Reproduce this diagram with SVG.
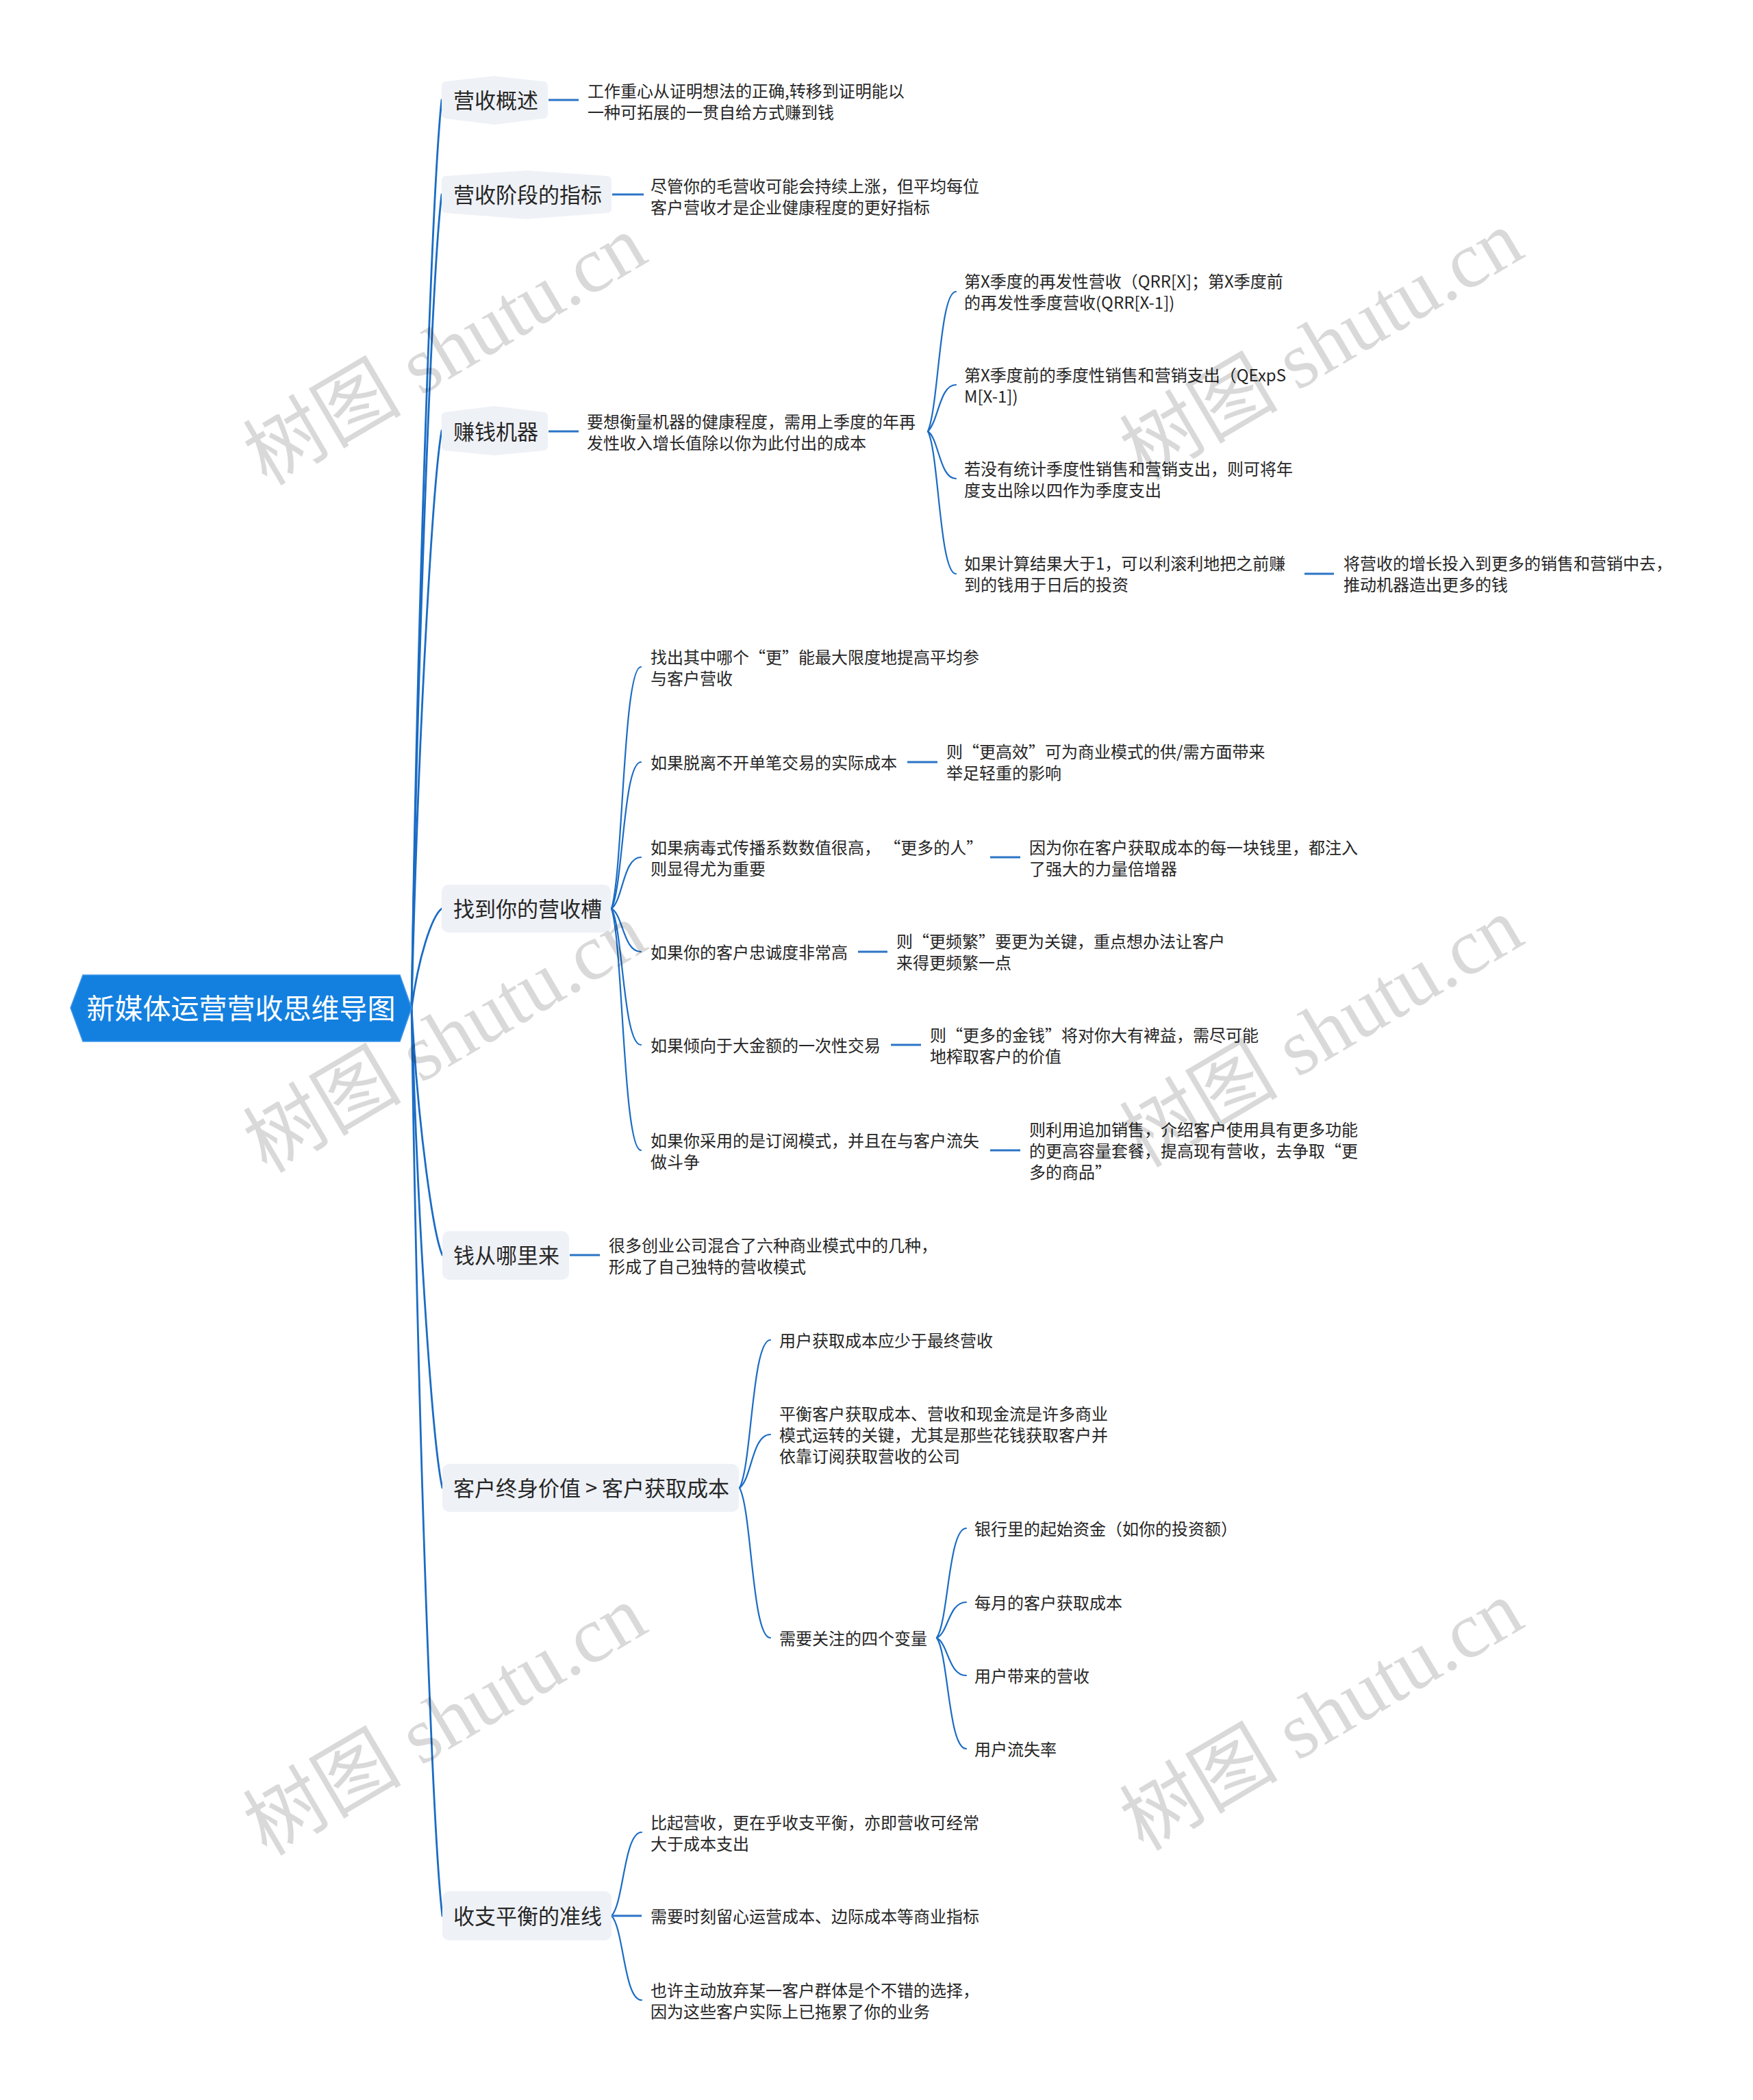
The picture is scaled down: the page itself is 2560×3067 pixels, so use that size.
<svg xmlns="http://www.w3.org/2000/svg" width="2560" height="3067" viewBox="0 0 2560 3067">
<style>
text{font-family:"Noto Sans CJK SC","Noto Sans",sans-serif;dominant-baseline:central;}
.root{font-size:41px;fill:#ffffff;text-anchor:middle;transform:translateY(-2px);}
.l1{font-size:31px;fill:#262626;transform:translateY(-2px);}
.t{font-size:24px;fill:#262626;transform:translateY(-1px);}
.n1{fill:#eef1f6;stroke:#eef1f6;stroke-width:12;stroke-linejoin:round;}
.n1r{fill:#eef1f6;}
.c{fill:none;stroke:#1b6cc4;stroke-width:2.2;stroke-linecap:round;}
.cr{fill:none;stroke:#1b6cc4;stroke-width:2.8;stroke-linecap:round;}
.h{fill:none;stroke:#2b74c6;stroke-width:3;}
.wm{font-family:"Liberation Serif","Noto Sans CJK SC",serif;font-size:116px;fill:#000;fill-opacity:0.15;text-anchor:middle;dominant-baseline:central;}
</style>
<rect x="0" y="0" width="2560" height="3067" fill="#ffffff"/>

<g id="connectors">
  <path class="cr" d="M601 1472 C611 809 633 252 645 146"/>
  <path class="cr" d="M601 1472 C611 878 633 379 645 284"/>
  <path class="cr" d="M601 1472 C611 1050 633 696 645 629"/>
  <path class="cr" d="M601 1472 C611 1399 630 1339 645 1327"/>
  <path class="cr" d="M601 1472 C611 1652 633 1804 646 1833"/>
  <path class="cr" d="M601 1472 C611 1822 633 2117 646 2173"/>
  <path class="cr" d="M601 1472 C611 2135 633 2692 646 2798"/>
  <line class="h" x1="801" y1="146" x2="845" y2="146"/>
  <line class="h" x1="894" y1="284" x2="940" y2="284"/>
  <line class="h" x1="801" y1="630" x2="845" y2="630"/>
  <line class="h" x1="832" y1="1833" x2="876" y2="1833"/>
  <line class="h" x1="1905" y1="838" x2="1948" y2="838"/>
  <line class="h" x1="1325" y1="1113" x2="1369" y2="1113"/>
  <line class="h" x1="1446" y1="1252" x2="1490" y2="1252"/>
  <line class="h" x1="1253" y1="1390" x2="1296" y2="1390"/>
  <line class="h" x1="1301" y1="1526" x2="1345" y2="1526"/>
  <line class="h" x1="1446" y1="1680" x2="1490" y2="1680"/>
  <path class="c" d="M1355 630 C1371 593 1372 426 1396 426"/>
  <path class="c" d="M1355 630 C1371 614 1372 562 1396 562"/>
  <path class="c" d="M1355 630 C1371 640 1372 699 1396 699"/>
  <path class="c" d="M1355 630 C1371 660 1372 838 1396 838"/>
  <path class="c" d="M893 1327 C910 1272 910 974 936 974"/>
  <path class="c" d="M893 1327 C910 1295 910 1113 936 1113"/>
  <path class="c" d="M893 1327 C910 1314 910 1252 936 1252"/>
  <path class="c" d="M893 1327 C910 1336 910 1390 936 1390"/>
  <path class="c" d="M893 1327 C910 1357 910 1526 936 1526"/>
  <path class="c" d="M893 1327 C910 1380 910 1680 936 1680"/>
  <path class="c" d="M1080 2173 C1098 2140 1098 1957 1125 1957"/>
  <path class="c" d="M1080 2173 C1098 2160 1098 2095 1125 2095"/>
  <path class="c" d="M1080 2173 C1098 2206 1098 2392 1125 2392"/>
  <path class="c" d="M1368 2392 C1385 2368 1385 2232 1411 2232"/>
  <path class="c" d="M1368 2392 C1385 2385 1385 2340 1411 2340"/>
  <path class="c" d="M1368 2392 C1385 2401 1385 2447 1411 2447"/>
  <path class="c" d="M1368 2392 C1385 2416 1385 2554 1411 2554"/>
  <path class="c" d="M893 2798 C911 2780 911 2676 937 2676"/>
  <line class="h" x1="895" y1="2798" x2="937" y2="2798"/>
  <path class="c" d="M893 2798 C911 2816 911 2921 937 2921"/>
</g>

<g id="root">
  <polygon points="103,1472 121,1424 584,1424 601,1472 584,1521 121,1521" fill="#1380e0" stroke="#3d95e8" stroke-width="1.5"/>
  <text class="root" x="352" y="1472">新媒体运营营收思维导图</text>
</g>

<g id="n-yingshougaishu">
  <polygon class="n1" points="651,125 722,117 794,125 794,167 722,176 651,167"/>
  <text class="l1" x="662" y="146">营收概述</text>
</g>
<g id="n-yingshougaishu-1">
  <text class="t"><tspan x="858" y="132">工作重心从证明想法的正确,转移到证明能以</tspan><tspan x="858" y="163">一种可拓展的一贯自给方式赚到钱</tspan></text>
</g>

<g id="n-zhibiao">
  <polygon class="n1" points="651,263 769,255 887,263 887,305 769,314 651,305"/>
  <text class="l1" x="662" y="284">营收阶段的指标</text>
</g>
<g id="n-zhibiao-1">
  <text class="t"><tspan x="950" y="271">尽管你的毛营收可能会持续上涨，但平均每位</tspan><tspan x="950" y="302">客户营收才是企业健康程度的更好指标</tspan></text>
</g>

<g id="n-zhuanqian">
  <polygon class="n1" points="651,608 722,599 794,608 794,652 722,659 651,652"/>
  <text class="l1" x="662" y="630">赚钱机器</text>
</g>
<g id="n-zhuanqian-1">
  <text class="t"><tspan x="857" y="615">要想衡量机器的健康程度，需用上季度的年再</tspan><tspan x="857" y="646">发性收入增长值除以你为此付出的成本</tspan></text>
</g>
<g id="n-zhuanqian-1-1">
  <text class="t"><tspan x="1408" y="410">第X季度的再发性营收（QRR[X]；第X季度前</tspan><tspan x="1408" y="441">的再发性季度营收(QRR[X-1])</tspan></text>
</g>
<g id="n-zhuanqian-1-2">
  <text class="t"><tspan x="1408" y="547">第X季度前的季度性销售和营销支出（QExpS</tspan><tspan x="1408" y="578">M[X-1])</tspan></text>
</g>
<g id="n-zhuanqian-1-3">
  <text class="t"><tspan x="1408" y="684">若没有统计季度性销售和营销支出，则可将年</tspan><tspan x="1408" y="715">度支出除以四作为季度支出</tspan></text>
</g>
<g id="n-zhuanqian-1-4">
  <text class="t"><tspan x="1408" y="822">如果计算结果大于1，可以利滚利地把之前赚</tspan><tspan x="1408" y="853">到的钱用于日后的投资</tspan></text>
</g>
<g id="n-zhuanqian-1-4-1">
  <text class="t"><tspan x="1962" y="822">将营收的增长投入到更多的销售和营销中去，</tspan><tspan x="1962" y="853">推动机器造出更多的钱</tspan></text>
</g>

<g id="n-yingshoucao">
  <rect class="n1r" x="645" y="1292" width="247" height="70" rx="10"/>
  <text class="l1" x="662" y="1327">找到你的营收槽</text>
</g>
<g id="n-cao-1">
  <text class="t"><tspan x="950" y="959">找出其中哪个“更”能最大限度地提高平均参</tspan><tspan x="950" y="990">与客户营收</tspan></text>
</g>
<g id="n-cao-2">
  <text class="t" x="950" y="1113">如果脱离不开单笔交易的实际成本</text>
</g>
<g id="n-cao-2-1">
  <text class="t"><tspan x="1382" y="1097">则“更高效”可为商业模式的供/需方面带来</tspan><tspan x="1382" y="1128">举足轻重的影响</tspan></text>
</g>
<g id="n-cao-3">
  <text class="t"><tspan x="950" y="1237">如果病毒式传播系数数值很高， “更多的人”</tspan><tspan x="950" y="1268">则显得尤为重要</tspan></text>
</g>
<g id="n-cao-3-1">
  <text class="t"><tspan x="1503" y="1237">因为你在客户获取成本的每一块钱里，都注入</tspan><tspan x="1503" y="1268">了强大的力量倍增器</tspan></text>
</g>
<g id="n-cao-4">
  <text class="t" x="950" y="1390">如果你的客户忠诚度非常高</text>
</g>
<g id="n-cao-4-1">
  <text class="t"><tspan x="1309" y="1374">则“更频繁”要更为关键，重点想办法让客户</tspan><tspan x="1309" y="1405">来得更频繁一点</tspan></text>
</g>
<g id="n-cao-5">
  <text class="t" x="950" y="1526">如果倾向于大金额的一次性交易</text>
</g>
<g id="n-cao-5-1">
  <text class="t"><tspan x="1358" y="1511">则“更多的金钱”将对你大有裨益，需尽可能</tspan><tspan x="1358" y="1542">地榨取客户的价值</tspan></text>
</g>
<g id="n-cao-6">
  <text class="t"><tspan x="950" y="1665">如果你采用的是订阅模式，并且在与客户流失</tspan><tspan x="950" y="1696">做斗争</tspan></text>
</g>
<g id="n-cao-6-1">
  <text class="t"><tspan x="1503" y="1649">则利用追加销售，介绍客户使用具有更多功能</tspan><tspan x="1503" y="1680">的更高容量套餐，提高现有营收，去争取“更</tspan><tspan x="1503" y="1711">多的商品”</tspan></text>
</g>

<g id="n-qiancong">
  <rect class="n1r" x="646" y="1798" width="185" height="71" rx="10"/>
  <text class="l1" x="662" y="1833">钱从哪里来</text>
</g>
<g id="n-qiancong-1">
  <text class="t"><tspan x="889" y="1818">很多创业公司混合了六种商业模式中的几种，</tspan><tspan x="889" y="1849">形成了自己独特的营收模式</tspan></text>
</g>

<g id="n-ltv">
  <rect class="n1r" x="646" y="2138" width="433" height="70" rx="10"/>
  <text class="l1" x="662" y="2173">客户终身价值 &gt; 客户获取成本</text>
</g>
<g id="n-ltv-1">
  <text class="t" x="1138" y="1957">用户获取成本应少于最终营收</text>
</g>
<g id="n-ltv-2">
  <text class="t"><tspan x="1138" y="2064">平衡客户获取成本、营收和现金流是许多商业</tspan><tspan x="1138" y="2095">模式运转的关键，尤其是那些花钱获取客户并</tspan><tspan x="1138" y="2126">依靠订阅获取营收的公司</tspan></text>
</g>
<g id="n-ltv-3">
  <text class="t" x="1138" y="2392">需要关注的四个变量</text>
</g>
<g id="n-ltv-3-1"><text class="t" x="1423" y="2232">银行里的起始资金（如你的投资额）</text></g>
<g id="n-ltv-3-2"><text class="t" x="1423" y="2340">每月的客户获取成本</text></g>
<g id="n-ltv-3-3"><text class="t" x="1423" y="2447">用户带来的营收</text></g>
<g id="n-ltv-3-4"><text class="t" x="1423" y="2554">用户流失率</text></g>

<g id="n-shouzhi">
  <rect class="n1r" x="646" y="2762" width="247" height="72" rx="10"/>
  <text class="l1" x="662" y="2798">收支平衡的准线</text>
</g>
<g id="n-shouzhi-1">
  <text class="t"><tspan x="950" y="2661">比起营收，更在乎收支平衡，亦即营收可经常</tspan><tspan x="950" y="2692">大于成本支出</tspan></text>
</g>
<g id="n-shouzhi-2">
  <text class="t" x="950" y="2798">需要时刻留心运营成本、边际成本等商业指标</text>
</g>
<g id="n-shouzhi-3">
  <text class="t"><tspan x="950" y="2906">也许主动放弃某一客户群体是个不错的选择，</tspan><tspan x="950" y="2937">因为这些客户实际上已拖累了你的业务</tspan></text>
</g>

<g id="watermarks">
  <text class="wm" transform="translate(650 512) rotate(-30.5)">树图 shutu.cn</text>
  <text class="wm" transform="translate(1930 505) rotate(-30.5)">树图 shutu.cn</text>
  <text class="wm" transform="translate(650 1516) rotate(-30.5)">树图 shutu.cn</text>
  <text class="wm" transform="translate(1930 1508) rotate(-30.5)">树图 shutu.cn</text>
  <text class="wm" transform="translate(650 2513) rotate(-30.5)">树图 shutu.cn</text>
  <text class="wm" transform="translate(1930 2506) rotate(-30.5)">树图 shutu.cn</text>
</g>
</svg>
